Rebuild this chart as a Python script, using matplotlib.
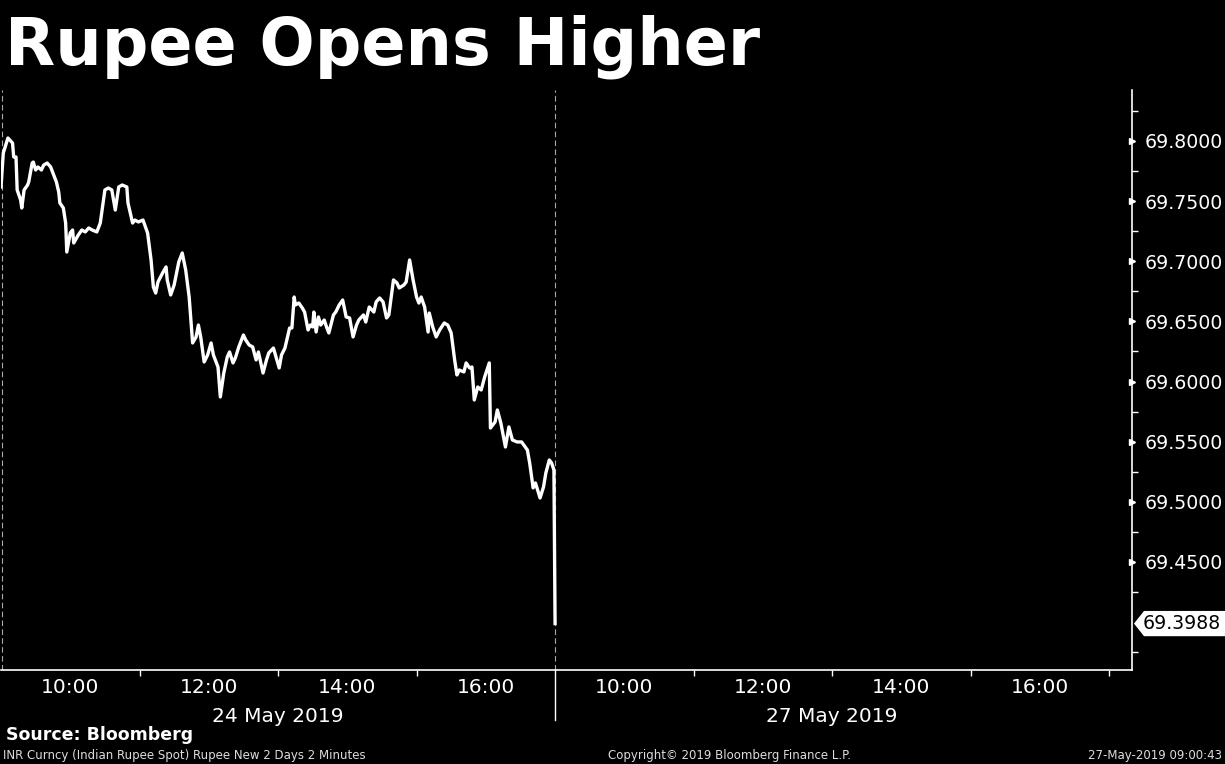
import matplotlib
matplotlib.use("Agg")
import matplotlib.pyplot as plt
import matplotlib.transforms as mtransforms
from matplotlib.patches import Polygon
import numpy as np

# INR spot, 2 minute bars
day1_times = [
    "09:00", "09:02", "09:06", "09:10", "09:11", "09:13", "09:14", "09:17", "09:18", "09:20",
    "09:23", "09:24", "09:27", "09:28", "09:30", "09:32", "09:35", "09:37", "09:40", "09:43",
    "09:45", "09:48", "09:50", "09:51", "09:54", "09:56", "09:57", "10:00", "10:02", "10:03",
    "10:07", "10:10", "10:13", "10:16", "10:19", "10:23", "10:26", "10:30", "10:33", "10:36",
    "10:39", "10:42", "10:45", "10:49", "10:50", "10:54", "10:56", "10:59", "11:03", "11:07",
    "11:10", "11:12", "11:14", "11:16", "11:20", "11:23", "11:24", "11:27", "11:30", "11:34",
    "11:37", "11:40", "11:43", "11:46", "11:49", "11:51", "11:53", "11:56", "11:59", "12:02",
    "12:04", "12:08", "12:10", "12:13", "12:16", "12:18", "12:21", "12:23", "12:26", "12:30",
    "12:32", "12:35", "12:38", "12:41", "12:43", "12:47", "12:50", "12:52", "12:56", "13:01",
    "13:03", "13:06", "13:10", "13:12", "13:14", "13:15", "13:18", "13:21", "13:23", "13:26",
    "13:28", "13:30", "13:31", "13:33", "13:35", "13:37", "13:40", "13:42", "13:44", "13:48",
    "13:50", "13:53", "13:56", "13:59", "14:02", "14:05", "14:08", "14:10", "14:14", "14:16",
    "14:19", "14:23", "14:25", "14:28", "14:31", "14:34", "14:36", "14:40", "14:43", "14:45",
    "14:49", "14:51", "14:54", "14:57", "15:00", "15:02", "15:04", "15:07", "15:10", "15:11",
    "15:14", "15:17", "15:20", "15:24", "15:27", "15:30", "15:33", "15:35", "15:37", "15:41",
    "15:43", "15:46", "15:48", "15:50", "15:53", "15:56", "15:59", "16:03", "16:04", "16:08",
    "16:10", "16:13", "16:17", "16:20", "16:23", "16:27", "16:31", "16:36", "16:38", "16:41",
    "16:43", "16:47", "16:50", "16:52", "16:55", "16:57", "16:59",
]
day1_values = [
    69.7618, 69.7900, 69.8025, 69.7983, 69.7867, 69.7867, 69.7593, 69.7510, 69.7443, 69.7593,
    69.7634, 69.7659, 69.7817, 69.7825, 69.7759, 69.7784, 69.7759, 69.7800, 69.7817, 69.7784,
    69.7734, 69.7659, 69.7576, 69.7485, 69.7443, 69.7318, 69.7077, 69.7235, 69.7260, 69.7152,
    69.7219, 69.7260, 69.7244, 69.7277, 69.7260, 69.7244, 69.7318, 69.7593, 69.7609, 69.7593,
    69.7426, 69.7618, 69.7634, 69.7618, 69.7485, 69.7318, 69.7343, 69.7327, 69.7343, 69.7235,
    69.7011, 69.6786, 69.6736, 69.6828, 69.6903, 69.6953, 69.6845, 69.6720, 69.6803, 69.6994,
    69.7069, 69.6928, 69.6703, 69.6321, 69.6371, 69.6470, 69.6371, 69.6163, 69.6221, 69.6321,
    69.6221, 69.6121, 69.5872, 69.6071, 69.6204, 69.6246, 69.6155, 69.6196, 69.6288, 69.6387,
    69.6346, 69.6304, 69.6288, 69.6180, 69.6246, 69.6071, 69.6180, 69.6238, 69.6279, 69.6113,
    69.6221, 69.6279, 69.6445, 69.6445, 69.6703, 69.6637, 69.6653, 69.6612, 69.6578, 69.6429,
    69.6470, 69.6454, 69.6578, 69.6412, 69.6537, 69.6470, 69.6512, 69.6454, 69.6404, 69.6554,
    69.6578, 69.6637, 69.6678, 69.6537, 69.6529, 69.6371, 69.6470, 69.6512, 69.6554, 69.6495,
    69.6620, 69.6578, 69.6662, 69.6695, 69.6662, 69.6529, 69.6554, 69.6845, 69.6820, 69.6778,
    69.6803, 69.6828, 69.7011, 69.6845, 69.6703, 69.6653, 69.6703, 69.6620, 69.6412, 69.6570,
    69.6454, 69.6371, 69.6429, 69.6487, 69.6470, 69.6404, 69.6180, 69.6055, 69.6096, 69.6080,
    69.6155, 69.6113, 69.6121, 69.5847, 69.5955, 69.5930, 69.6038, 69.6155, 69.5614, 69.5664,
    69.5764, 69.5656, 69.5456, 69.5623, 69.5515, 69.5498, 69.5498, 69.5431, 69.5323, 69.5116,
    69.5157, 69.5032, 69.5124, 69.5240, 69.5348, 69.5323, 69.5265,
]
day2_times = ["09:00"]
day2_values = [69.3988]

day_labels = ["24 May 2019", "27 May 2019"]
hour_labels = ["10:00", "12:00", "14:00", "16:00"]
y_ticks = [69.45, 69.50, 69.55, 69.60, 69.65, 69.70, 69.75, 69.80]
last_value = day2_values[-1]

title = "Rupee Opens Higher"
source = "Source: Bloomberg"
footer_left = "INR Curncy (Indian Rupee Spot) Rupee New 2 Days 2 Minutes"
footer_mid = "Copyright\u00a9 2019 Bloomberg Finance L.P."
footer_right = "27-May-2019 09:00:43"


def to_hours(t, day):
    # both sessions 09:00-17:00 laid side by side
    h, m = t.split(":")
    return day * 8 + int(h) + int(m) / 60.0 - 9


x = [to_hours(t, 0) for t in day1_times] + [to_hours(t, 1) for t in day2_times]
y = day1_values + day2_values

W, H = 1225, 764
fig = plt.figure(figsize=(W / 100, H / 100), dpi=100, facecolor="black")
ax = fig.add_axes([1 / W, 94 / H, 1131 / W, 580 / H], facecolor="black")

ax.plot(x, y, color="white", lw=2.4, solid_joinstyle="round", zorder=3)
ax.set_xlim(0, 16.33)
ax.set_ylim(69.3602, 69.8424)

# day separator and left edge
ax.axvline(8, color="#aaaaaa", lw=0.8, ls=(0, (5, 3)))
ax.axvline(0.02, color="#aaaaaa", lw=0.8, ls=(0, (5, 3)))
blend = mtransforms.blended_transform_factory(ax.transData, ax.transAxes)
ax.plot([8, 8], [0, -0.086], color="white", lw=1, transform=blend, clip_on=False)

for s in ["left", "top"]:
    ax.spines[s].set_visible(False)
for s in ["right", "bottom"]:
    ax.spines[s].set_color("white")
    ax.spines[s].set_linewidth(1.2)

# x axis: tick marks on odd hours, labels on even hours
ax.set_xticks([2, 4, 6, 10, 12, 14, 16])
ax.set_xticklabels([])
ax.tick_params(axis="x", which="major", colors="white", direction="out", length=4, width=1)
ax.set_xticks([1, 3, 5, 7, 9, 11, 13, 15], minor=True)
ax.set_xticklabels(hour_labels + hour_labels, minor=True)
ax.tick_params(axis="x", which="minor", colors="white", length=0, pad=6, labelsize=14.5)

for i, lab in enumerate(day_labels):
    ax.text(4 + 8 * i, -0.081, lab, transform=blend, color="white", fontsize=14.5,
            ha="center", va="center")

# y axis on the right
ax.yaxis.tick_right()
ax.set_yticks(y_ticks)
ax.set_yticklabels(["%.4f" % v for v in y_ticks])
ax.set_yticks(np.arange(69.375, 69.84, 0.05), minor=True)
ax.tick_params(axis="y", which="major", colors="white", labelsize=13.6, length=0, pad=9)
ax.tick_params(axis="y", which="minor", colors="white", direction="out", length=4, width=1)
ymark = mtransforms.blended_transform_factory(ax.transAxes, ax.transData)
for v in y_ticks:
    ax.plot(1.0, v, marker=">", ms=5, color="white", transform=ymark, clip_on=False)

# last value tag
tag = mtransforms.blended_transform_factory(fig.transFigure, ax.transData)
hh = 0.0105
pts = [(1134 / W, last_value), (1144 / W, last_value + hh), (1.0, last_value + hh),
       (1.0, last_value - hh), (1144 / W, last_value - hh)]
fig.patches.append(Polygon(pts, closed=True, facecolor="white", edgecolor="none",
                           transform=tag, figure=fig))
fig.text(1143 / W, last_value, "%.4f" % last_value, transform=tag, color="black",
         fontsize=13.6, ha="left", va="center")

fig.text(5 / W, 1 - 47 / H, title, color="white", fontsize=47, fontweight="bold",
         ha="left", va="center")
fig.text(6 / W, 1 - 735 / H, source, color="white", fontsize=12.5, fontweight="bold",
         ha="left", va="center")
fig.text(3 / W, 1 - 756 / H, footer_left, color="#dddddd", fontsize=8.5, ha="left", va="center")
fig.text(729 / W, 1 - 756 / H, footer_mid, color="#dddddd", fontsize=8.5, ha="center", va="center")
fig.text(1222 / W, 1 - 756 / H, footer_right, color="#dddddd", fontsize=8.5, ha="right", va="center")

fig.savefig("out.png", dpi=100, facecolor="black")
